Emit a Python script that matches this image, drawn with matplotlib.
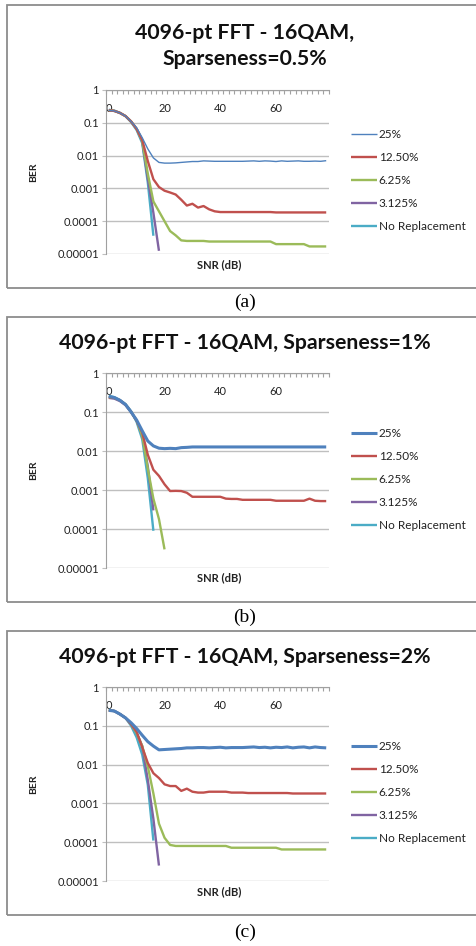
import numpy as np
import matplotlib
matplotlib.use("Agg")
import matplotlib.pyplot as plt
from matplotlib.patches import Rectangle

plt.rcParams['font.family'] = ['Lato', 'DejaVu Sans']

SNR_DB = [0, 2, 4, 6, 8, 10, 12, 14, 16, 18, 20, 22, 24, 26, 28, 30, 32, 34, 36, 38,
          40, 42, 44, 46, 48, 50, 52, 54, 56, 58, 60, 62, 64, 66, 68, 70, 72, 74, 76, 78]
SERIES = ["25%", "12.50%", "6.25%", "3.125%", "No Replacement"]
COLORS = ["#4F81BD", "#C0504D", "#9BBB59", "#8064A2", "#4BACC6"]
YTICKS = [1, 0.1, 0.01, 0.001, 0.0001, 0.00001]
YLABELS = ["1", "0.1", "0.01", "0.001", "0.0001", "0.00001"]
XTICKS = [0, 20, 40, 60]

# (a) sparseness 0.5%
a_25 = [0.24, 0.23, 0.2, 0.16, 0.11, 0.07, 0.035, 0.016, 0.0085, 0.0062,
        0.0059, 0.0059, 0.006, 0.0062, 0.0064, 0.0066, 0.0066, 0.0069, 0.0068, 0.0067,
        0.0067, 0.0067, 0.0067, 0.0067, 0.0067, 0.0068, 0.0069, 0.0067, 0.0069, 0.0068,
        0.0066, 0.0069, 0.0067, 0.0068, 0.0069, 0.0067, 0.0067, 0.0068, 0.0067, 0.007]
a_125 = [0.24, 0.23, 0.2, 0.16, 0.11, 0.065, 0.03, 0.0068, 0.0019, 0.0011,
         0.00085, 0.00075, 0.00065, 0.00045, 0.0003, 0.00034, 0.00026, 0.00029, 0.00023, 0.0002,
         0.00019, 0.00019, 0.00019, 0.00019, 0.00019, 0.00019, 0.00019, 0.00019, 0.00019, 0.00019,
         0.000185, 0.000185, 0.000185, 0.000185, 0.000185, 0.000185, 0.000185, 0.000185, 0.000185, 0.000185]
a_625 = [0.24, 0.23, 0.2, 0.16, 0.11, 0.065, 0.028, 0.0028, 0.0004, 0.0002,
         0.0001, 0.00005, 0.000037, 0.000026, 0.000025, 0.000025, 0.000025, 0.000025, 0.000024, 0.000024,
         0.000024, 0.000024, 0.000024, 0.000024, 0.000024, 0.000024, 0.000024, 0.000024, 0.000024, 0.000024,
         0.00002, 0.00002, 0.00002, 0.00002, 0.00002, 0.00002, 0.000017, 0.000017, 0.000017, 0.000017]
a_3125 = [0.24, 0.23, 0.2, 0.16, 0.11, 0.065, 0.027, 0.002, 0.00018, 0.0000125]
a_nr = [0.25, 0.235, 0.2, 0.16, 0.105, 0.06, 0.024, 0.0015, 0.000036]

# (b) sparseness 1%
b_25 = [0.25, 0.235, 0.2, 0.155, 0.1, 0.062, 0.033, 0.018, 0.0135, 0.0118,
        0.0115, 0.0117, 0.0115, 0.0122, 0.0124, 0.0127, 0.0127, 0.0127, 0.0127, 0.0127,
        0.0127, 0.0127, 0.0127, 0.0127, 0.0127, 0.0127, 0.0127, 0.0127, 0.0127, 0.0127,
        0.0127, 0.0127, 0.0127, 0.0127, 0.0127, 0.0127, 0.0127, 0.0127, 0.0127, 0.0127]
b_125 = [0.24, 0.23, 0.2, 0.155, 0.1, 0.06, 0.03, 0.008, 0.0033, 0.0023,
         0.0014, 0.00094, 0.00095, 0.00094, 0.00085, 0.00067, 0.00067, 0.00067, 0.00067, 0.00067,
         0.00067, 0.0006, 0.00059, 0.00059, 0.00056, 0.00056, 0.00056, 0.00056, 0.00056, 0.00056,
         0.00053, 0.00053, 0.00053, 0.00053, 0.00053, 0.00053, 0.0006, 0.00053, 0.00052, 0.00052]
b_625 = [0.24, 0.23, 0.2, 0.155, 0.1, 0.06, 0.025, 0.0035, 0.0006, 0.00018, 0.00003]
b_3125 = [0.23, 0.22, 0.19, 0.15, 0.1, 0.06, 0.025, 0.004, 0.0003]
b_nr = [0.26, 0.24, 0.2, 0.16, 0.105, 0.055, 0.02, 0.002, 0.00009]

# (c) sparseness 2%
c_25 = [0.25, 0.24, 0.2, 0.16, 0.12, 0.085, 0.057, 0.039, 0.03, 0.024,
        0.0245, 0.025, 0.0255, 0.026, 0.027, 0.027, 0.0275, 0.0275, 0.027, 0.0275,
        0.028, 0.027, 0.0275, 0.0275, 0.0275, 0.028, 0.0285, 0.0275, 0.028, 0.027,
        0.028, 0.0275, 0.0285, 0.027, 0.028, 0.0285, 0.027, 0.0285, 0.0275, 0.027]
c_125 = [0.25, 0.24, 0.2, 0.16, 0.11, 0.07, 0.028, 0.011, 0.006, 0.0045,
         0.0031, 0.0028, 0.0028, 0.0021, 0.0024, 0.002, 0.0019, 0.0019, 0.002, 0.002,
         0.002, 0.002, 0.0019, 0.0019, 0.0019, 0.00185, 0.00185, 0.00185, 0.00185, 0.00185,
         0.00185, 0.00185, 0.00185, 0.0018, 0.0018, 0.0018, 0.0018, 0.0018, 0.0018, 0.0018]
c_625 = [0.25, 0.24, 0.2, 0.16, 0.11, 0.065, 0.03, 0.009, 0.0018, 0.0003,
         0.00013, 0.000085, 0.00008, 0.00008, 0.00008, 0.00008, 0.00008, 0.00008, 0.00008, 0.00008,
         0.00008, 0.00008, 0.000072, 0.000072, 0.000072, 0.000072, 0.000072, 0.000072, 0.000072, 0.000072,
         0.000072, 0.000065, 0.000065, 0.000065, 0.000065, 0.000065, 0.000065, 0.000065, 0.000065, 0.000065]
c_3125 = [0.25, 0.24, 0.2, 0.16, 0.11, 0.065, 0.03, 0.004, 0.0004, 0.000025]
c_nr = [0.26, 0.24, 0.2, 0.16, 0.1, 0.05, 0.018, 0.003, 0.00011]

TITLES = ["4096-pt FFT - 16QAM,\nSparseness=0.5%",
          "4096-pt FFT - 16QAM, Sparseness=1%",
          "4096-pt FFT - 16QAM, Sparseness=2%"]
CAPTIONS = ["(a)", "(b)", "(c)"]

panels = [[a_25, a_125, a_625, a_3125, a_nr],
          [b_25, b_125, b_625, b_3125, b_nr],
          [c_25, c_125, c_625, c_3125, c_nr]]

W, H = 476, 946
# pixel layout: box top/bottom, axes top/bottom, title y, legend first row y, xlabel y, caption y
layout = [
    dict(box=(5, 288), ax=(90, 254), title=46, leg=134, xlab=265, cap=302, blue_lw=1.0),
    dict(box=(317, 602), ax=(373, 568), title=343, leg=433, xlab=578, cap=617, blue_lw=2.2),
    dict(box=(631, 915), ax=(687, 881), title=657, leg=746, xlab=892, cap=932, blue_lw=2.2),
]
AX_L, AX_R = 106, 329
GRID = "#BFBFBF"

fig = plt.figure(figsize=(W / 100, H / 100), dpi=100)

for data, lay, title, cap in zip(panels, layout, TITLES, CAPTIONS):
    bt, bb = lay["box"]
    fig.add_artist(Rectangle((7 / W, 1 - bb / H), 480 / W, (bb - bt) / H,
                             transform=fig.transFigure, fill=False,
                             edgecolor="#8C8C8C", linewidth=1.3))
    at, ab = lay["ax"]
    ax = fig.add_axes([AX_L / W, 1 - ab / H, (AX_R - AX_L) / W, (ab - at) / H])

    for i, (vals, name, col) in enumerate(zip(data, SERIES, COLORS)):
        lw = lay["blue_lw"] if i == 0 else 1.7
        ax.plot(SNR_DB[:len(vals)], vals, color=col, lw=lw, label=name,
                solid_capstyle="butt", zorder=3 + (4 - i) * 0.1)

    ax.set_yscale("log")
    ax.set_ylim(0.00001, 1)
    ax.set_xlim(-1, 79)
    ax.set_yticks(YTICKS, YLABELS)
    ax.minorticks_off()
    ax.yaxis.grid(True, color=GRID, lw=1.0)
    ax.tick_params(axis="y", direction="out", length=3, color=GRID,
                   labelsize=8, pad=2, labelcolor="#222222")

    ax.xaxis.set_ticks_position("top")
    ax.set_xticks(XTICKS)
    ax.set_xticks(np.arange(-1, 80, 2), minor=True)
    ax.tick_params(axis="x", which="major", length=0, labelsize=8, pad=-17,
                   labelcolor="#222222")
    ax.tick_params(axis="x", which="minor", direction="in", length=3,
                   color="#A0A0A0", width=0.8)

    for side in ["right", "bottom"]:
        ax.spines[side].set_visible(False)
    ax.spines["top"].set_color("#A0A0A0")
    ax.spines["left"].set_color("#A0A0A0")

    ax.set_ylabel("BER", fontsize=7.5, fontweight="bold", color="#222222")
    ax.yaxis.set_label_coords((38 - AX_L) / (AX_R - AX_L), 0.5)
    ax.xaxis.set_label_position("bottom")
    ax.set_xlabel("SNR (dB)", fontsize=8, fontweight="bold", color="#222222")
    ax.xaxis.set_label_coords((219 - AX_L) / (AX_R - AX_L), -(lay["xlab"] - 6 - ab) / (ab - at))

    fig.text(245 / W, 1 - lay["title"] / H, title, ha="center", va="center",
             fontsize=15.3, fontweight="bold", linespacing=1.4, color="#111111")

    leg = ax.legend(loc="upper left", bbox_to_anchor=(351 / W, 1 - (lay["leg"] - 5) / H),
                    bbox_transform=fig.transFigure, frameon=False, fontsize=8.5,
                    handlelength=2.2, handletextpad=0.15, labelspacing=1.02,
                    borderpad=0, borderaxespad=0)
    for t in leg.get_texts():
        t.set_color("#222222")

    fig.text(245 / W, 1 - lay["cap"] / H, cap, ha="center", va="center",
             fontsize=14, family="Liberation Serif")

fig.savefig("out.png", dpi=100)
